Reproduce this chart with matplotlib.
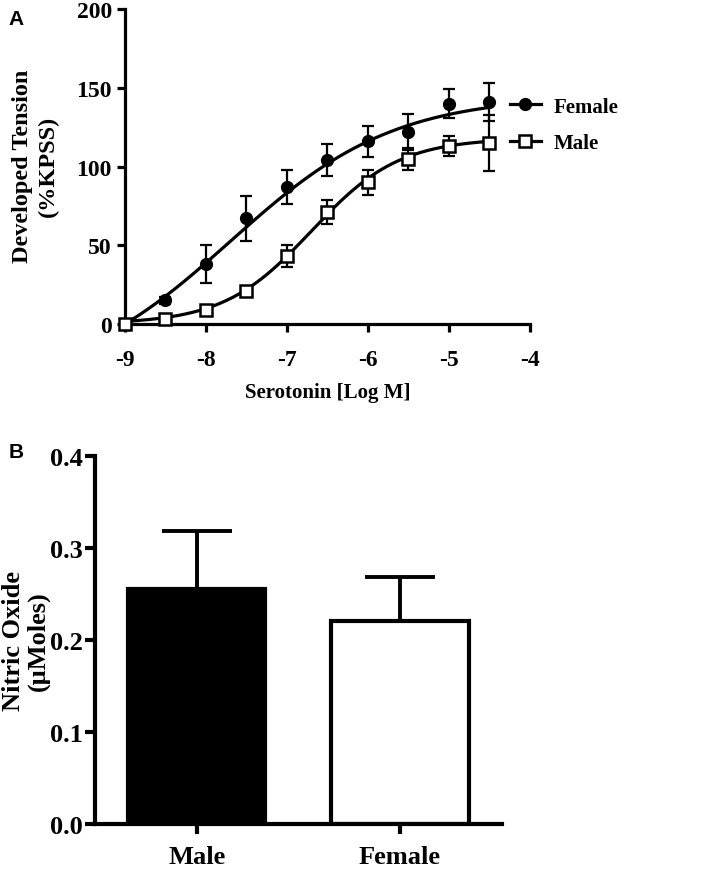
import numpy as np
import matplotlib
matplotlib.use("Agg")
import matplotlib.pyplot as plt
from matplotlib.lines import Line2D

plt.rcParams['font.family'] = ['Liberation Serif', 'DejaVu Serif']
plt.rcParams['font.weight'] = 'bold'
plt.rcParams['axes.labelweight'] = 'bold'
plt.rcParams['axes.unicode_minus'] = False

# panel A: serotonin concentration-response
log_conc = [-9, -8.5, -8, -7.5, -7, -6.5, -6, -5.5, -5, -4.5]
female_mean = [0, 15, 38, 67, 87, 104, 116, 122, 140, 141]
female_sem = [0, 2, 12, 14, 10.5, 10, 10, 11.5, 9.5, 12]
male_mean = [0, 3, 9, 21, 43, 71, 90, 105, 113, 115]
male_sem = [0, 1, 2, 2.5, 7, 7.5, 8, 7, 6.5, 18]

# sigmoid fit parameters (bottom, top, logEC50, hill)
female_fit = (-40, 145, -7.7, 0.43)
male_fit = (0, 118, -6.7, 0.8)

# panel B: nitric oxide
groups = ['Male', 'Female']
no_mean = [0.255, 0.221]
no_sem = [0.063, 0.048]


def sigmoid(x, bottom, top, ec50, hill):
    return bottom + (top - bottom) / (1 + 10 ** ((ec50 - x) * hill))


fig = plt.figure(figsize=(7.09, 8.7), dpi=100)

# ---- A ----
ax = fig.add_axes([0.1763, 0.6264, 0.5712, 0.3621])
xs = np.linspace(-9, -4.5, 200)
ax.plot(xs, sigmoid(xs, *female_fit), color='black', lw=2.3, zorder=2)
ax.plot(xs, sigmoid(xs, *male_fit), color='black', lw=2.3, zorder=2)
ax.errorbar(log_conc, female_mean, yerr=female_sem, fmt='none', ecolor='black',
            elinewidth=1.6, capsize=4.5, capthick=1.6, zorder=3, clip_on=False)
ax.errorbar(log_conc, male_mean, yerr=male_sem, fmt='none', ecolor='black',
            elinewidth=1.6, capsize=4.5, capthick=1.6, zorder=3, clip_on=False)
ax.plot(log_conc, female_mean, 'o', color='black', ms=8.5, zorder=4, clip_on=False)
ax.plot(log_conc, male_mean, 's', mfc='white', mec='black', mew=1.8, ms=8.5,
        zorder=5, clip_on=False)

ax.set_xlim(-9, -4)
ax.set_ylim(0, 200)
ax.set_xticks([-9, -8, -7, -6, -5, -4])
ax.set_yticks([0, 50, 100, 150, 200])
for s in ['top', 'right']:
    ax.spines[s].set_visible(False)
for s in ['left', 'bottom']:
    ax.spines[s].set_linewidth(2.3)
ax.tick_params(width=2.3, length=6, labelsize=17, direction='out')
ax.tick_params(axis='x', pad=12)
ax.set_xlabel('Serotonin [Log M]', fontsize=15)
ax.xaxis.set_label_coords(0.5, -0.183)
ax.set_ylabel('Developed Tension\n(%KPSS)', fontsize=17.5, linespacing=1.35)
ax.yaxis.set_label_coords(-0.162, 0.505)

handles = [
    Line2D([], [], color='black', lw=2.3, marker='o', ms=8.5),
    Line2D([], [], color='black', lw=2.3, marker='s', mfc='white', mec='black', mew=1.8, ms=8.5),
]
ax.legend(handles, ['Female', 'Male'], loc='center left', bbox_to_anchor=(0.95, 0.632),
          frameon=False, fontsize=15, handlelength=1.5, handletextpad=0.6,
          labelspacing=0.8, borderpad=0, borderaxespad=0)

fig.text(0.012, 0.978, 'A', fontsize=15, fontweight='bold', family='Liberation Sans', va='center')

# ---- B ----
bx = fig.add_axes([0.134, 0.0517, 0.574, 0.423])
pos = np.arange(len(groups))
bx.errorbar(pos, no_mean, yerr=[np.zeros(len(no_sem)), no_sem], fmt='none', ecolor='black',
            elinewidth=2.8, capsize=25, capthick=2.8, zorder=1)
bx.bar(pos, no_mean, width=0.675, color=['black', 'white'], edgecolor='black', linewidth=3,
       zorder=2)
bx.set_xlim(-0.502, 1.502)
bx.set_ylim(0, 0.4)
bx.set_yticks([0.0, 0.1, 0.2, 0.3, 0.4])
bx.set_yticklabels(['0.0', '0.1', '0.2', '0.3', '0.4'])
bx.set_xticks(pos)
bx.set_xticklabels(groups)
for s in ['top', 'right']:
    bx.spines[s].set_visible(False)
for s in ['left', 'bottom']:
    bx.spines[s].set_linewidth(3)
bx.tick_params(width=3, length=7, labelsize=19, direction='out')
bx.tick_params(axis='y', pad=2)
bx.tick_params(axis='x', pad=8)
bx.set_ylabel('Nitric Oxide\n(\u03bcMoles)', fontsize=19, linespacing=1.1)
bx.yaxis.set_label_coords(-0.11, 0.5)

fig.text(0.012, 0.48, 'B', fontsize=15, fontweight='bold', family='Liberation Sans', va='center')

fig.savefig('out.png', dpi=100)
